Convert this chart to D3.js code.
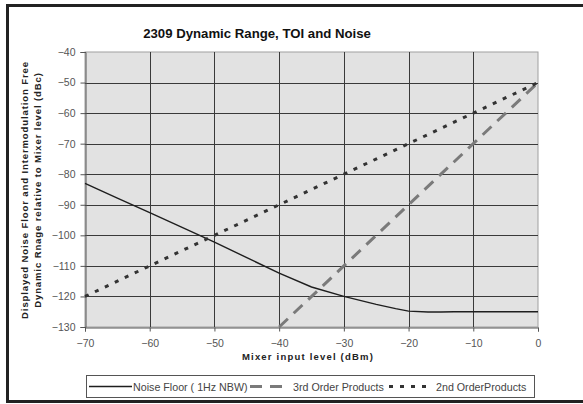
<!DOCTYPE html>
<html>
<head>
<meta charset="utf-8">
<script src="https://cdn.jsdelivr.net/npm/d3@7"></script>
<style>
  body { margin: 0; background: #fff; }
  text { font-family: "Liberation Sans", Arial, sans-serif; }
</style>
</head>
<body>
<div id="chart"></div>
<script>
// data
var xTicks = [-70, -60, -50, -40, -30, -20, -10, 0];
var yTicks = [-40, -50, -60, -70, -80, -90, -100, -110, -120, -130];

var noiseX = [-70, -65, -60, -55, -50, -45, -40, -35, -30, -25, -22, -20, -17, -15, -13, -10, 0];
var noiseY = [-83, -87.8, -92.6, -97.4, -102.2, -107.3, -112.4, -116.9, -120, -122.6, -124, -124.8, -125.1, -125.1, -125, -125, -125];

var thirdX = [-40, -30, -20, -10, 0];
var thirdY = [-130, -110, -90, -70, -50];

var secondX = [-70, -60, -50, -40, -30, -20, -10, 0];
var secondY = [-120, -110, -100, -90, -80, -70, -60, -50];

var series = [
  { name: "Noise Floor ( 1Hz NBW)", xs: noiseX, ys: noiseY, color: "#1e1e1e", width: 1.4, dash: null },
  { name: "3rd Order Products", xs: thirdX, ys: thirdY, color: "#7a7a7a", width: 3, dash: "12,8" },
  { name: "2nd OrderProducts", xs: secondX, ys: secondY, color: "#333333", width: 3, dash: "4,7" }
];

var width = 583, height = 404;
var svg = d3.select("#chart").append("svg").attr("width", width).attr("height", height);

// frame (open at the right side)
svg.append("path")
  .attr("d", "M590,5.5 H7.5 V401.5 H590")
  .attr("fill", "none").attr("stroke", "#222").attr("stroke-width", 3);

var x = d3.scaleLinear().domain([-70, 0]).range([85, 538]);
var y = d3.scaleLinear().domain([-130, -40]).range([327, 52]);

// plot background
svg.append("rect")
  .attr("x", x(-70)).attr("y", y(-40))
  .attr("width", x(0) - x(-70)).attr("height", y(-130) - y(-40))
  .attr("fill", "#e2e2e2").attr("stroke", "#a0a0a0").attr("stroke-width", 1);

// grid
svg.append("g").selectAll("line").data(xTicks.slice(1, -1)).enter().append("line")
  .attr("x1", function (d) { return Math.round(x(d)) + 0.5; })
  .attr("x2", function (d) { return Math.round(x(d)) + 0.5; })
  .attr("y1", y(-40)).attr("y2", y(-130))
  .attr("stroke", "#3a3a3a").attr("stroke-width", 1);
svg.append("g").selectAll("line").data(yTicks.slice(1, -1)).enter().append("line")
  .attr("y1", function (d) { return Math.round(y(d)) + 0.5; })
  .attr("y2", function (d) { return Math.round(y(d)) + 0.5; })
  .attr("x1", x(-70)).attr("x2", x(0))
  .attr("stroke", "#3a3a3a").attr("stroke-width", 1);

// axes
var yAxis = d3.axisLeft(y).tickValues(yTicks).tickSize(5).tickPadding(5).tickFormat(d3.format("d"));
var yAxisG = svg.append("g").attr("transform", "translate(" + (x(-70) + 0.5) + ",0)").call(yAxis);
var xAxis = d3.axisBottom(x).tickValues(xTicks).tickSize(4).tickPadding(8).tickFormat(d3.format("d"));
var xAxisG = svg.append("g").attr("transform", "translate(0," + (y(-130) + 0.5) + ")").call(xAxis);
[yAxisG, xAxisG].forEach(function (g) {
  g.select(".domain").attr("stroke", "#555");
  g.selectAll(".tick line").attr("stroke", "#555");
  g.selectAll(".tick text").attr("fill", "#555").style("font-size", "10.5px")
    .style("font-family", "'Liberation Sans', Arial, sans-serif");
});

// series lines
var line = d3.line()
  .x(function (d) { return x(d[0]); })
  .y(function (d) { return y(d[1]); });

series.forEach(function (s) {
  var pts = s.xs.map(function (v, i) { return [v, s.ys[i]]; });
  svg.append("path")
    .datum(pts)
    .attr("d", line)
    .attr("fill", "none")
    .attr("stroke", s.color)
    .attr("stroke-width", s.width)
    .attr("stroke-dasharray", s.dash);
});

// title
svg.append("text")
  .attr("x", 257).attr("y", 38)
  .attr("text-anchor", "middle")
  .style("font-size", "13.2px").style("font-weight", "bold")
  .attr("fill", "#111")
  .text("2309 Dynamic Range, TOI and Noise");

// axis titles
svg.append("text")
  .attr("x", 308).attr("y", 360)
  .attr("text-anchor", "middle")
  .style("font-size", "9.5px").style("font-weight", "bold").style("letter-spacing", "1.2px")
  .attr("fill", "#222")
  .text("Mixer input level (dBm)");

var yTitle = svg.append("text")
  .attr("transform", "translate(28,190) rotate(-90)")
  .attr("text-anchor", "middle")
  .style("font-size", "9.5px").style("font-weight", "bold").style("letter-spacing", "0.9px")
  .attr("fill", "#222");
yTitle.append("tspan").attr("x", 0).attr("dy", 0).text("Displayed Noise Floor and Intermodulation Free");
yTitle.append("tspan").attr("x", 0).attr("dy", 13).text("Dynamic Rnage relative to Mixer level (dBc)");

// legend
var legend = svg.append("g");
legend.append("rect")
  .attr("x", 86.5).attr("y", 375.5).attr("width", 448).attr("height", 22)
  .attr("fill", "#fff").attr("stroke", "#555").attr("stroke-width", 1);
var legendPos = [
  { x1: 89, x2: 132, tx: 133 },
  { x1: 250, x2: 288, tx: 293 },
  { x1: 389, x2: 432, tx: 436 }
];
series.forEach(function (s, i) {
  var p = legendPos[i];
  legend.append("line")
    .attr("x1", p.x1).attr("x2", p.x2).attr("y1", 386.5).attr("y2", 386.5)
    .attr("stroke", s.color).attr("stroke-width", s.width)
    .attr("stroke-dasharray", s.dash);
  legend.append("text")
    .attr("x", p.tx).attr("y", 390.5)
    .style("font-size", "10.7px")
    .attr("fill", "#444")
    .text(s.name);
});
</script>
</body>
</html>
